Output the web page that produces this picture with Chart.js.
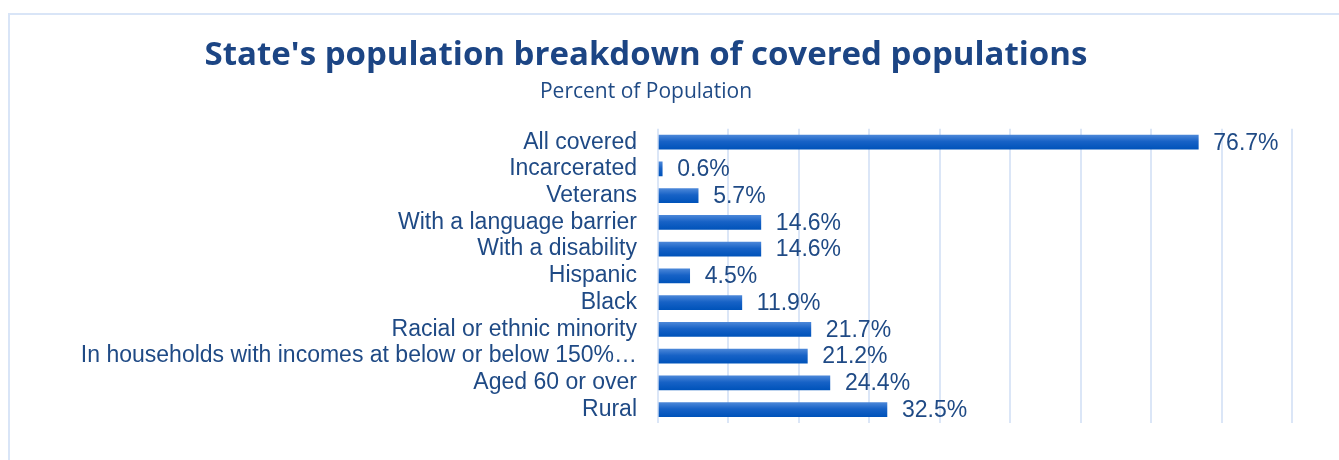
<!DOCTYPE html>
<html>
<head>
<meta charset="utf-8">
<script src="https://cdn.jsdelivr.net/npm/chart.js@4.4.1/dist/chart.umd.min.js"></script>
<style>
  html, body { margin: 0; padding: 0; background: #ffffff; overflow: hidden; }
  #frame { position: absolute; left: 8px; top: 13px; width: 1400px; height: 500px; border: 2px solid #d9e5f7; box-sizing: border-box; }
  #wrap { position: absolute; left: 0; top: 0; width: 1339px; height: 460px; }
</style>
</head>
<body>
<div id="frame"></div>
<div id="wrap"><canvas id="c" width="1339" height="460"></canvas></div>
<script>
const categories = [
  "All covered",
  "Incarcerated",
  "Veterans",
  "With a language barrier",
  "With a disability",
  "Hispanic",
  "Black",
  "Racial or ethnic minority",
  "In households with incomes at below or below 150%\u2026",
  "Aged 60 or over",
  "Rural"
];
const percentValues = [76.7, 0.6, 5.7, 14.6, 14.6, 4.5, 11.9, 21.7, 21.2, 24.4, 32.5];
const axisMin = 0;
const axisMax = 90;
const axisStep = 10;
const titleText = "State's population breakdown of covered populations";
const subtitleText = "Percent of Population";

const TEXT_BLUE = '#1f4a85';
const BAR_THICK = 14;

function barGradient(ctx) {
  const chart = ctx.chart;
  const ys = chart.scales && chart.scales.y;
  if (!ys || ctx.type !== 'data' || ys.top === undefined) return '#1762c6';
  const c = ys.getPixelForValue(ctx.dataIndex);
  const g = chart.ctx.createLinearGradient(0, c - BAR_THICK / 2, 0, c + BAR_THICK / 2);
  g.addColorStop(0, '#4a86d8');
  g.addColorStop(0.45, '#1762c6');
  g.addColorStop(1, '#0053ba');
  return g;
}

const valueLabels = {
  id: 'valueLabels',
  afterDatasetsDraw(chart) {
    const ctx = chart.ctx;
    const meta = chart.getDatasetMeta(0);
    ctx.save();
    ctx.font = '23px "Liberation Sans", Arial, sans-serif';
    ctx.fillStyle = TEXT_BLUE;
    ctx.textAlign = 'left';
    ctx.textBaseline = 'middle';
    meta.data.forEach((bar, i) => {
      const v = chart.data.datasets[0].data[i];
      ctx.fillText(v.toFixed(1) + '%', bar.x + 15, bar.y + 1);
    });
    ctx.restore();
  }
};

new Chart(document.getElementById('c'), {
  type: 'bar',
  data: {
    labels: categories,
    datasets: [{
      data: percentValues,
      backgroundColor: barGradient,
      borderWidth: 0,
      barThickness: BAR_THICK
    }]
  },
  plugins: [valueLabels],
  options: {
    indexAxis: 'y',
    responsive: false,
    animation: false,
    layout: { padding: { left: 0, right: 47, top: 36, bottom: 37 } },
    plugins: {
      legend: { display: false },
      tooltip: { enabled: false },
      title: {
        display: true,
        text: titleText,
        color: '#1c4584',
        font: { family: '"Open Sans", sans-serif', size: 33, weight: 'bold', lineHeight: 1.2 },
        padding: { top: 0, bottom: 0 }
      },
      subtitle: {
        display: true,
        text: subtitleText,
        color: TEXT_BLUE,
        font: { family: '"Open Sans", sans-serif', size: 21, lineHeight: 1.2 },
        padding: { top: 4, bottom: 24 }
      }
    },
    scales: {
      x: {
        min: axisMin,
        max: axisMax,
        ticks: { display: false, stepSize: axisStep },
        grid: { color: '#dbe6f7', lineWidth: 2, drawTicks: false },
        border: { display: false }
      },
      y: {
        ticks: {
          color: TEXT_BLUE,
          font: { family: '"Liberation Sans", Arial, sans-serif', size: 23 },
          padding: 21,
          autoSkip: false
        },
        grid: { display: false, drawTicks: false },
        border: { display: false },
        afterFit(scale) { scale.width = 658; }
      }
    }
  }
});
</script>
</body>
</html>
